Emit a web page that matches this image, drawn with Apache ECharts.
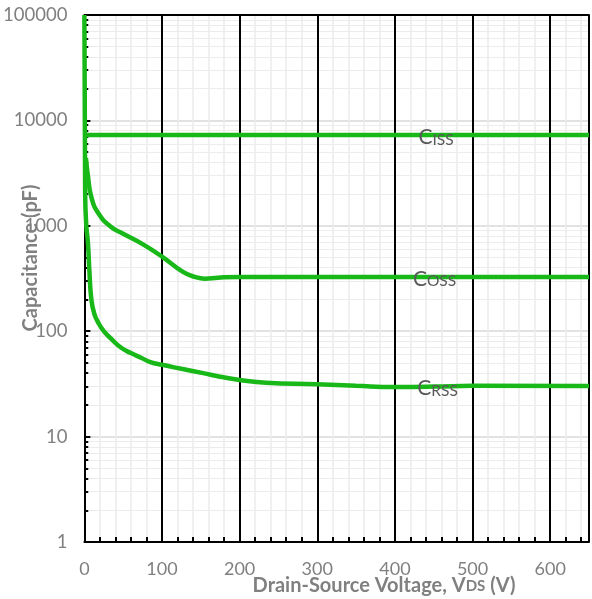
<!DOCTYPE html>
<html>
<head>
<meta charset="utf-8">
<script src="https://cdn.jsdelivr.net/npm/echarts@6/dist/echarts.min.js"></script>
<style>html,body{margin:0;padding:0;background:#fff}#c{width:592px;height:599px}</style>
</head>
<body>
<div id="c"></div>
<script>
// ---- data ----
const ciss = [[0, 7250], [650, 7250]];
const coss = [[2, 4400], [4.6, 2960], [9, 1870], [17.8, 1320], [34, 980], [50, 840], [75, 670], [100, 510], [127, 365], [142, 328], [155, 315], [172, 322], [200, 327], [650, 327]];
const crss = [[0, 100000], [1, 2000], [2.5, 1000], [4.6, 690], [6.4, 380], [9, 200], [12.7, 147], [18, 120], [25, 100], [35, 84], [47, 70], [60, 62], [73, 56], [85, 51], [100, 48], [125, 44], [153, 40], [175, 37], [200, 34.5], [234, 32.4], [300, 31.3], [350, 30.3], [400, 29.6], [450, 29.8], [500, 30.3], [650, 30.2]];
const decades = [1, 10, 100, 1000, 10000];
const minorSteps = [2, 3, 4, 5, 6, 7, 8, 9];
const labels = [
  { name: 'C', sub: 'ISS', at: [453, 7250] },
  { name: 'C', sub: 'OSS', at: [451, 327] },
  { name: 'C', sub: 'RSS', at: [455, 30.2] }
];
const xMax = 650;
const minorTickLen = 5; // in volts

// ---- build ----
const minorVals = [];
decades.forEach(d => minorSteps.forEach(m => minorVals.push(d * m)));
const gridLines = minorVals.map(v => ({ yAxis: v, lineStyle: { color: '#ececec', width: 1, type: 'solid' } }))
  .concat([10, 100, 1000, 10000].map(v => ({ yAxis: v, lineStyle: { color: '#d9d9d9', width: 1.5, type: 'solid' } })));
const tickLines = minorVals.map(v => [
  { coord: [0, v], lineStyle: { color: '#000', width: 2, type: 'solid' } },
  { coord: [minorTickLen, v] }
]);

const green = '#19b819';
const labelColor = '#595959';
const lineSeries = (name, data) => ({
  name, type: 'line', data, smooth: 0.5, showSymbol: false, symbol: 'none',
  lineStyle: { color: green, width: 4.5 }, z: 3, silent: true
});

const chart = echarts.init(document.getElementById('c'), null, { renderer: 'canvas' });
chart.setOption({
  animation: false,
  backgroundColor: '#fff',
  grid: { left: 83, right: -2, top: 15, bottom: 57 },
  xAxis: [{
    type: 'value', min: 0, max: xMax, interval: 100,
    axisLine: { show: true, onZero: false, lineStyle: { color: '#000', width: 2 } },
    axisTick: { show: true, inside: true, length: 5, lineStyle: { color: '#000', width: 2 } },
    minorTick: { show: true, splitNumber: 5, length: 5, lineStyle: { color: '#000', width: 2 } },
    splitLine: { show: true, lineStyle: { color: '#000', width: 2 } },
    minorSplitLine: { show: true, lineStyle: { color: '#ececec', width: 1.5 } },
    axisLabel: { color: '#808080', fontFamily: 'Lato', fontSize: 18, margin: 18,
      formatter: v => (v > 600 ? '' : String(v)) }
  }, {
    type: 'value', min: 0, max: xMax, position: 'top',
    axisLine: { show: true, lineStyle: { color: '#000', width: 2 } },
    axisTick: { show: false }, axisLabel: { show: false }, splitLine: { show: false }
  }],
  yAxis: {
    type: 'log', logBase: 10, min: 1, max: 100000,
    axisLine: { show: true, lineStyle: { color: '#000', width: 2 } },
    axisTick: { show: true, inside: true, length: 6, lineStyle: { color: '#000', width: 2 } },
    splitLine: { show: false },
    axisLabel: { color: '#808080', fontFamily: 'Lato', fontSize: 18.5, margin: 17,
      formatter: v => String(Math.round(v)) }
  },
  series: [
    {
      name: 'grid', type: 'line', data: [], z: -1, silent: true,
      markLine: { silent: true, symbol: 'none', z: -1, label: { show: false }, animation: false,
        data: gridLines.concat(tickLines) }
    },
    lineSeries('Ciss', ciss),
    lineSeries('Coss', coss),
    lineSeries('Crss', crss),
    {
      name: 'labels', type: 'scatter', data: [], z: 5, silent: true,
      markPoint: {
        symbol: 'circle', symbolSize: 0, silent: true, z: 6,
        label: {
          show: true, position: 'inside', offset: [0, 2],
          formatter: p => '{a|' + p.data.n + '}{b|' + p.data.s + '}',
          rich: {
            a: { fontFamily: 'Lato', fontSize: 21, color: labelColor },
            b: { fontFamily: 'Lato', fontSize: 15.5, color: labelColor, verticalAlign: 'bottom' }
          }
        },
        data: labels.map(l => ({ coord: l.at, n: l.name, s: l.sub }))
      }
    }
  ],
  graphic: [
    {
      type: 'text', x: 31, y: 258, rotation: Math.PI / 2,
      style: { text: 'Capacitance (pF)', fill: '#808080', font: 'bold 20px Lato', align: 'center', verticalAlign: 'middle' }
    },
    {
      type: 'text', x: 384, y: 586,
      style: {
        text: '{a|Drain-Source Voltage, V}{b|DS}{a| (V)}',
        align: 'center', verticalAlign: 'middle',
        rich: {
          a: { font: 'bold 20px Lato', fill: '#808080', fontWeight: 'bold', fontSize: 20, fontFamily: 'Lato', color: '#808080' },
          b: { font: 'bold 15px Lato', fill: '#808080', fontWeight: 'bold', fontSize: 15, fontFamily: 'Lato', color: '#808080' }
        }
      }
    }
  ]
});
</script>
</body>
</html>
